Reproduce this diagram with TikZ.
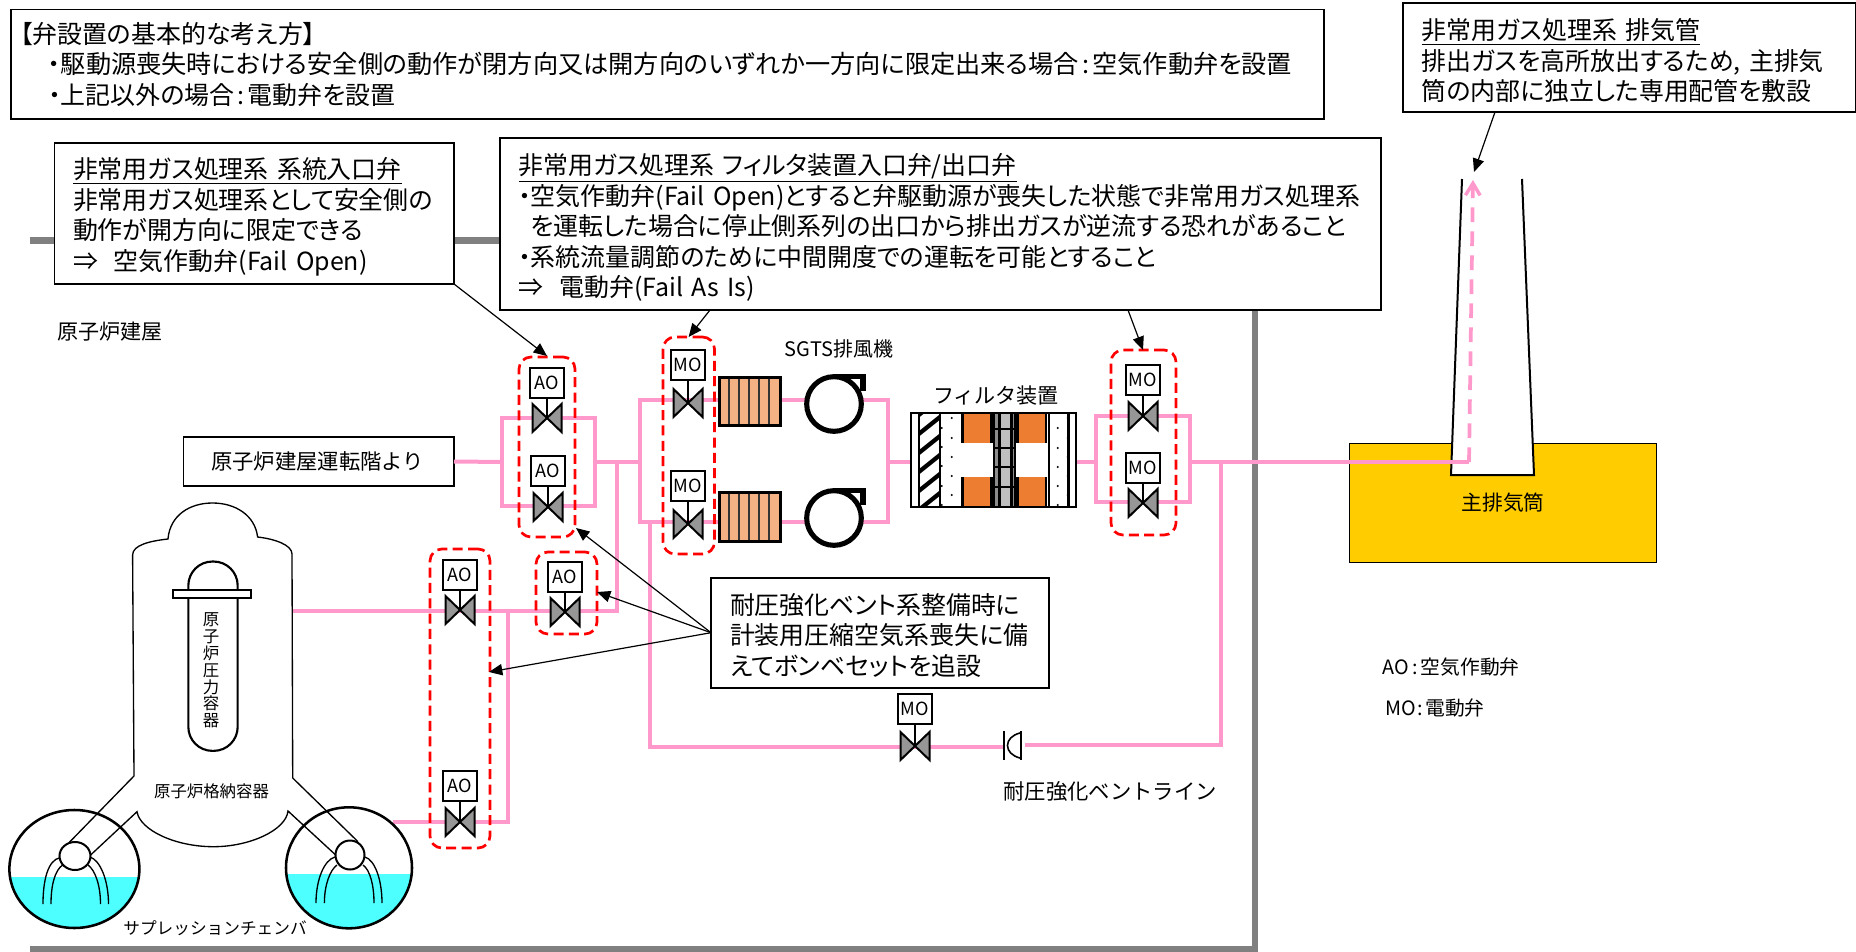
\documentclass[tikz,border=0pt]{standalone}
\usepackage{fontspec}
\setmainfont[RawFeature={+palt}]{Noto Sans CJK JP}
\newfontfamily\fullw{Noto Sans CJK JP}
\usetikzlibrary{arrows.meta,calc}
\definecolor{pipepink}{HTML}{FF99CC}
\definecolor{wallgray}{HTML}{808080}
\definecolor{valvegray}{HTML}{969696}
\definecolor{heaterorange}{HTML}{F4B183}
\definecolor{filterorange}{HTML}{ED7D31}
\definecolor{stackyellow}{HTML}{FFCC00}
\definecolor{waterblue}{HTML}{4DFFFF}
\newcommand{\fsL}{\fontsize{18.7}{22.9}\selectfont}
\newcommand{\fsM}{\fontsize{15.8}{20}\selectfont}
\newcommand{\fsS}{\fontsize{12.3}{12.6}\selectfont}
\newcommand{\fsV}{\fontsize{13.6}{15}\selectfont}
\newcommand{\firstline}[1]{\rule{0pt}{#1pt}}
\tikzset{
  wall/.style={draw=wallgray,line width=5.2pt},
  pipe/.style={draw=pipepink,line width=3pt},
  txtbox/.style={draw=black,line width=1.3pt,fill=white,outer sep=0pt,inner ysep=0pt,align=left,font=\fsL,anchor=center},
  lbl/.style={inner sep=0pt,font=\fsM},
  redbox/.style={draw=red,line width=2pt,dash pattern=on 7.5pt off 4pt,rounded corners=9pt,inner sep=0pt,outer sep=0pt},
  actbox/.style={draw=black,line width=1.6pt,fill=white,inner sep=0pt,outer sep=0pt,minimum width=25pt,minimum height=22.5pt,font=\fsV},
  bowtie/.style={draw=black,line width=1.5pt,fill=valvegray,line join=miter},
  callout/.style={draw=black,line width=0.9pt,-{Triangle[length=10pt,width=8.5pt]},fill=none},
  thin line/.style={draw=black,line width=1pt},
  heaterbox/.style={draw=black,line width=2.2pt,fill=heaterorange,inner sep=0pt,outer sep=0pt,minimum width=46pt,minimum height=36.5pt},
  fanbody/.style={draw=black,line width=3.8pt,fill=white,circle,inner sep=0pt,outer sep=0pt,minimum size=41pt},
  filterline/.style={draw=black,line width=1.6pt},
  filterbox/.style={draw=black,line width=1.6pt,fill=white,inner sep=0pt,outer sep=0pt,minimum width=123.75pt,minimum height=70.5pt},
}
% boxed multi-line text: name, x0,y0,x1,y1, left pad, text
\newcommand{\textbox}[7]{%
  \pgfmathsetmacro\tbx{(#2+#4)/2}\pgfmathsetmacro\tby{(#3+#5)/2}%
  \pgfmathsetmacro\tbw{(#4-#2)*0.75}\pgfmathsetmacro\tbh{(#5-#3)*0.75}%
  \pgfmathsetmacro\tbp{#6*0.75}\pgfmathsetmacro\tbt{\tbw-2*\tbp}%
  \node[txtbox,minimum width=\tbw pt,minimum height=\tbh pt,inner xsep=\tbp pt,text width=\tbt pt] (#1) at (\tbx,\tby) {#7};}
% dashed red grouping frame: name, x0,y0,x1,y1
\newcommand{\redframe}[5]{%
  \pgfmathsetmacro\tbx{(#2+#4)/2}\pgfmathsetmacro\tby{(#3+#5)/2}%
  \pgfmathsetmacro\tbw{(#4-#2)*0.75}\pgfmathsetmacro\tbh{(#5-#3)*0.75}%
  \node[redbox,minimum width=\tbw pt,minimum height=\tbh pt] (#1) at (\tbx,\tby) {};}
% valve: name, cx, cy, actuator cy, label
\newcommand{\valve}[5]{%
  \coordinate (#1) at (#2,#3);
  \node[actbox] (#1act) at (#2,#4) {#5};
  \draw[draw=black,line width=1.5pt] (#1act.south) -- (#1);
  \draw[bowtie] (#1) ++(-14.5,-14) -- ++(29,28) -- ++(0,-28) -- ++(-29,28) -- cycle;}
% heater bank: name, cy
\newcommand{\heater}[2]{%
  \node[heaterbox] (#1) at (750,#2) {};
  \foreach \hx in {729,739,749,759,769}{\draw[draw=black!80,line width=1.1pt] (\hx,#2-23) -- (\hx,#2+23);}
  \draw[draw=black,line width=2.2pt] (#1.north west) rectangle (#1.south east);}
% fan: name, cy
\newcommand{\fan}[2]{%
  \node[fanbody] (#1) at (834,#2) {};
  \draw[draw=black,line width=3.8pt,line join=miter] (#1.north) -- ++(29,0) -- ++(0,14);}
\begin{document}
\begin{tikzpicture}[x=0.75pt,y=-0.75pt]
\useasboundingbox (0,0) rectangle (1856,952);
% building wall
\coordinate (wallnw) at (30,240.5);
\coordinate (wallne) at (1255,240.5);
\coordinate (wallse) at (1255,949);
\coordinate (wallsw) at (30,949);
\draw[wall,line join=miter] (wallnw) -- (wallne) -- (wallse) -- (wallsw);
% stack
\node[draw=black,line width=1pt,fill=stackyellow,inner sep=0pt,minimum width=230.5pt,minimum height=89.5pt,font=\fontsize{15.6}{18}\selectfont] (stackbase) at (1503,503) {主排気筒};
\coordinate (stacktl) at (1462,179);
\coordinate (stacktr) at (1522,179);
\coordinate (stackbl) at (1451,475);
\coordinate (stackbr) at (1534,475);
\fill[white] (stacktl) -- (stackbl) -- (stackbr) -- (stacktr) -- cycle;
\draw[draw=black,line width=1.5pt] (stacktl) -- (stackbl) -- (stackbr) -- (stacktr);
% pipe junctions
\coordinate (l1w) at (502,462);
\coordinate (l1e) at (595,462);
\coordinate (l1nw) at (502,418);
\coordinate (l1se) at (595,506);
\coordinate (l2w) at (640,462);
\coordinate (l2nw) at (640,400);
\coordinate (l2se) at (888,522);
\coordinate (l2e) at (888,462);
\coordinate (l3w) at (1096,462);
\coordinate (l3e) at (1190,462);
\coordinate (l3nw) at (1096,416);
\coordinate (l3se) at (1190,502);
\coordinate (stackin) at (1469,462);
\coordinate (stacktop) at (1473,180);
\coordinate (br1) at (1221,462);
\coordinate (br1c) at (1221,745);
\coordinate (discE) at (1025,745);
\coordinate (discW) at (1004,747);
\coordinate (br2c) at (650,747);
\coordinate (br2t) at (650,522);
\coordinate (br3t) at (617,462);
\coordinate (br3c) at (617,611);
\coordinate (pcvA) at (292.5,611);
\coordinate (br4t) at (508,611);
\coordinate (br4c) at (508,822);
\coordinate (pcvB) at (392.6,822);
\textbox{boxD}{183.5}{437}{454}{486}{27.5}{\fullw\fontsize{16}{20}\selectfont 原子炉建屋運転階より}
\node[filterbox] (filter) at (993.5,460) {};
% pipes
\draw[pipe] (boxD.east) -- (l1w);
\draw[pipe] (l1nw) rectangle (l1se);
\draw[pipe] (l1e) -- (l2w);
\draw[pipe] (l2nw) rectangle (l2se);
\draw[pipe] (l2e) -- (filter.west |- l2e);
\draw[pipe] (filter.east |- l3w) -- (l3w);
\draw[pipe] (l3nw) rectangle (l3se);
\draw[pipe] (l3e) -- (stackin);
\draw[pipe,line join=miter] (br1) -- (br1c) -- (discE);
\draw[pipe,line join=miter] (discW) -- (br2c) -- (br2t);
\draw[pipe,line join=miter] (br3t) -- (br3c) -- (pcvA);
\draw[pipe,line join=miter] (br4t) -- (br4c) -- (pcvB);
\draw[draw=pipepink,line width=2.8pt,dash pattern=on 11pt off 7pt,-{Straight Barb[length=9pt,width=11pt,line width=2.6pt]}] (stackin) -- (stacktop);
% rupture disc
\coordinate (disc1t) at (1004,731);
\coordinate (disc1b) at (1004,760);
\coordinate (disc2t) at (1021,731);
\coordinate (disc2b) at (1021,760);
\draw[thin line] (disc1t) -- (disc1b);
\draw[thin line] (disc2t) -- (disc2b);
\draw[draw=black,line width=1.2pt] (1020,733) .. controls (1012,735) and (1007.5,740) .. (1007.5,745.5) .. controls (1007.5,751) and (1012,756) .. (1020,758);
% heaters and fans
\heater{heatA}{401.5}
\heater{heatB}{517}
\fan{fanA}{404}
\fan{fanB}{518}
% filter interior
\begin{scope}
  \clip (919,413) rectangle (940,507);
  \foreach \hy in {410,429,448,467,486,505,524}{\draw[draw=black,line width=3.2pt] (915,\hy+8) -- (945,\hy-16);}
\end{scope}
\foreach \dx/\dy in {951.7/418,951.7/438,951.7/457,951.7/476,951.7/495,941.7/428,941.7/447,941.7/466,941.7/486,941.7/505,1057.7/428,1057.7/448,1057.7/467,1057.7/486,1057.7/505,1067.7/418,1067.7/438,1067.7/457,1067.7/476,1067.7/495}{\fill[black] (\dx,\dy) circle[radius=1.2];}
\fill[filterorange] (964,413) rectangle (991.5,443);
\fill[filterorange] (964,477) rectangle (991.5,507);
\fill[filterorange] (1017.5,413) rectangle (1045.7,443);
\fill[filterorange] (1017.5,477) rectangle (1045.7,507);
\fill[black!45] (994,413) rectangle (1015,507);
\fill[black!25] (999.5,413) rectangle (1011.5,507);
\foreach \lx in {919,940,994,999.5,1011.5,1015,1049,1068.5}{\draw[filterline] (\lx,413) -- (\lx,507);}
\foreach \lx in {962.5,991.5,1017.5,1045.7}{\draw[filterline] (\lx,413) -- (\lx,443);\draw[filterline] (\lx,477) -- (\lx,507);}
\foreach \ly in {429,448.3,467.3,486.7}{\draw[filterline] (994,\ly) -- (1015,\ly);}
\draw[filterline] (filter.north west) rectangle (filter.south east);
% containment and suppression chamber
\coordinate (torLc) at (74.4,869);
\coordinate (torRc) at (349,867.8);
\begin{scope}
  \clip (torLc) ellipse[x radius=65,y radius=59];
  \fill[waterblue] (0,876.7) rectangle (150,940);
\end{scope}
\begin{scope}
  \clip (torRc) ellipse[x radius=63,y radius=60.5];
  \fill[waterblue] (270,874) rectangle (420,940);
\end{scope}
\draw[draw=black,line width=1.9pt] (torLc) ellipse[x radius=65,y radius=59];
\draw[draw=black,line width=1.9pt] (torRc) ellipse[x radius=63,y radius=60.5];
\draw[thin line] (69,842.7) -- (134,776) -- (132.6,555) .. controls (132.6,545) and (150,541) .. (168,539) .. controls (170,515) and (190,503) .. (212.5,503) .. controls (235,503) and (255,515) .. (257.6,537) .. controls (275,539) and (292,545) .. (292,554) -- (292.7,778) -- (358,841.7);
\draw[thin line] (90.6,855) -- (137,811.7) .. controls (140,830) and (175,846.7) .. (213.5,846.7) .. controls (250,846.7) and (286,830) .. (288,811) -- (335.7,855);
\draw[draw=black,line width=1.5pt,fill=white] (75,856) ellipse[x radius=15.5,y radius=14];
\draw[draw=black,line width=1.5pt,fill=white] (350,855) ellipse[x radius=14.5,y radius=14.5];
\draw[thin line] (60,857.7) .. controls (48,860) and (43,880) .. (43,904);
\draw[thin line] (62.7,865) .. controls (55,870) and (51,885) .. (51,904);
\draw[thin line] (88,865) .. controls (95,870) and (100.5,885) .. (100.5,904);
\draw[thin line] (90,857) .. controls (100,860) and (108.5,880) .. (108.5,904);
\draw[thin line] (335,857) .. controls (324,860) and (316,880) .. (316,903);
\draw[thin line] (337,865) .. controls (330,870) and (324.4,885) .. (324.4,903);
\draw[thin line] (363,865) .. controls (370,870) and (374,885) .. (374,903);
\draw[thin line] (365,857) .. controls (375,860) and (382,880) .. (382,903);
% reactor pressure vessel
\node[draw=black,line width=1.6pt,fill=white,rounded corners=18pt,inner sep=0pt,minimum width=37pt,minimum height=142pt] (rpv) at (213,656.2) {};
\node[draw=black,line width=1.6pt,fill=white,inner sep=0pt,minimum width=58.8pt,minimum height=6pt] (rpvflange) at (212.2,594) {};
\node[inner sep=0pt,align=center,font=\fsS] (rpvtext) at (211,670.5) {原\\子\\炉\\圧\\力\\容\\器};
\node[lbl,font=\fontsize{12.3}{14}\selectfont] (pcvtext) at (211.5,791) {原子炉格納容器};
\node[lbl,font=\fullw\fontsize{12.5}{14}\selectfont] (spctext) at (215,928) {サプレッションチェンバ};
% valves
\valve{aoA}{547}{418}{383}{AO}
\valve{aoB}{548}{507}{471}{AO}
\valve{moA}{688}{403}{365}{MO}
\valve{moB}{688}{524}{486}{MO}
\valve{moC}{1143}{416}{380}{MO}
\valve{moD}{1143}{503}{468}{MO}
\valve{aoC}{460}{610}{575}{AO}
\valve{aoD}{460}{822}{786}{AO}
\valve{aoE}{565}{612}{577}{AO}
\valve{moE}{915}{746}{709}{MO}
% red frames
\redframe{rA}{519}{357}{575}{537}
\redframe{rB}{663}{337}{714.5}{554}
\redframe{rC}{1111}{350}{1176}{535}
\redframe{rD}{430}{549}{490}{848}
\redframe{rE}{536}{552}{597}{634}
% text boxes
\textbox{boxTop}{11}{9.5}{1324}{119}{9}{【弁設置の基本的な考え方】\\\hspace*{21.2pt}{\fontsize{18.9}{22.9}\selectfont ・駆動源喪失時における安全側の動作が閉方向又は開方向のいずれか一方向に限定出来る場合\hspace{2.5pt}:\hspace{2.5pt}空気作動弁を設置}\\\hspace*{21.2pt}・上記以外の場合\hspace{2.5pt}:\hspace{2.5pt}電動弁を設置}
\textbox{boxA}{54.5}{143}{454}{284}{18.5}{\firstline{21}\underline{非常用ガス処理系 系統入口弁}\\非常用ガス処理系として安全側の\\動作が開方向に限定できる\\⇒\hspace{12pt}空気作動弁(Fail Open)}
\textbox{boxB}{500}{138}{1381}{310}{18.5}{\firstline{21}\underline{非常用ガス処理系 フィルタ装置入口弁/出口弁}\\・空気作動弁(Fail Open)とすると弁駆動源が喪失した状態で非常用ガス処理系\\\hspace*{9pt}を運転した場合に停止側系列の出口から排出ガスが逆流する恐れがあること\\・系統流量調節のために中間開度での運転を可能とすること\\⇒\hspace{12pt}電動弁(Fail As Is)}
\textbox{boxC}{1403}{3}{1855.5}{112}{18.5}{\firstline{21}\underline{非常用ガス処理系 排気管}\\排出ガスを高所放出するため, 主排気\\筒の内部に独立した専用配管を敷設}
\textbox{boxE}{711}{578}{1049}{688}{19}{\firstline{19}耐圧強化ベント系整備時に\\計装用圧縮空気系喪失に備\\えてボンベセットを追設}
% callouts
\coordinate (tipA) at (547,356);
\coordinate (tipB) at (688.6,337);
\coordinate (fromB) at (710,310);
\coordinate (tipB2) at (1143,350);
\coordinate (fromB2) at (1128,310);
\coordinate (fromC) at (1495,112);
\coordinate (tipC) at (1474,172);
\coordinate (fromE) at (711,632.7);
\coordinate (tipE1) at (576,528);
\coordinate (tipE2) at (597,592);
\coordinate (tipE3) at (489,672);
\draw[callout] (boxA.south east) -- (tipA);
\draw[callout] (fromB) -- (tipB);
\draw[callout] (fromB2) -- (tipB2);
\draw[callout] (fromC) -- (tipC);
\draw[callout] (fromE) -- (tipE1);
\draw[callout] (fromE) -- (tipE2);
\draw[callout] (fromE) -- (tipE3);
% labels
\node[lbl] (reactorbldg) at (110,332) {原子炉建屋};
\node[lbl,font=\fontsize{15}{18}\selectfont] (sgts) at (839,348.5) {SGTS排風機};
\node[lbl,font=\fullw\fontsize{15.8}{20}\selectfont] (filterlbl) at (996,396) {フィルタ装置};
\node[lbl,font=\fullw\fontsize{16}{20}\selectfont] (ventline) at (1110,791) {耐圧強化ベントライン};
\node[lbl,anchor=west,font=\fontsize{14.8}{18}\selectfont] (legendAO) at (1382,667) {AO\hspace{2.5pt}:\hspace{2.5pt}空気作動弁};
\node[lbl,anchor=west,font=\fontsize{14.8}{18}\selectfont] (legendMO) at (1385,708) {MO\hspace{1.5pt}:\hspace{1.5pt}電動弁};
\end{tikzpicture}
\end{document}
